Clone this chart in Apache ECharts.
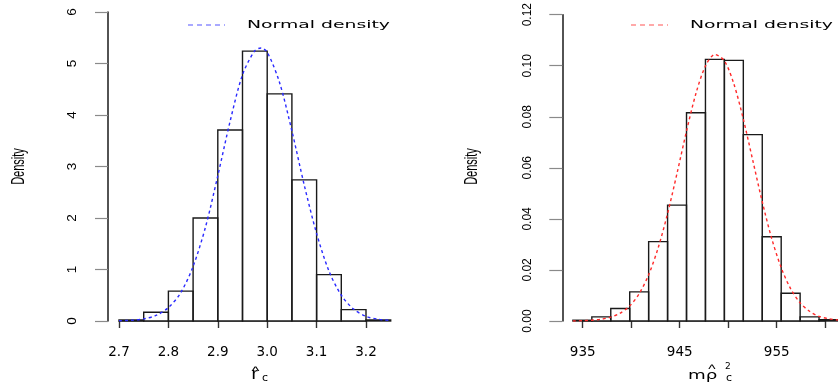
<!DOCTYPE html>
<html>
	<head>
		<meta charset="utf-8">
		<title>Histograms with normal density</title>
		<script src="https://cdn.jsdelivr.net/npm/echarts@6.0.0/dist/echarts.min.js"></script>
		<style>
			html, body {margin:0;padding:0;background:#fff;}
			#chart {width:838px;height:390px;}
		</style>
	</head>
	<body>
		<div id="chart"></div>
		<script>
			// left panel: r hat c
			var leftBinStart = [2.70, 2.75, 2.80, 2.85, 2.90, 2.95, 3.00, 3.05, 3.10, 3.15, 3.20];
			var leftBinWidth = 0.05;
			var leftDensity = [0.02, 0.17, 0.58, 2.00, 3.71, 5.24, 4.41, 2.74, 0.90, 0.22, 0.02];
			var leftCurveX = [2.700, 2.725, 2.750, 2.775, 2.800, 2.825, 2.850, 2.875, 2.900, 2.925, 2.950, 2.975, 2.9875, 3.000, 3.025, 3.050, 3.075, 3.100, 3.125, 3.150, 3.175, 3.200, 3.225, 3.250];
			var leftCurveY = [0.004, 0.014, 0.041, 0.108, 0.26, 0.55, 1.06, 1.82, 2.82, 3.88, 4.78, 5.25, 5.30, 5.22, 4.63, 3.69, 2.64, 1.70, 0.97, 0.50, 0.23, 0.09, 0.033, 0.011];
			var leftXTickLabels = ['2.7', '2.8', '2.9', '3.0', '3.1', '3.2'];
			var leftYTickLabels = ['0', '1', '2', '3', '4', '5', '6'];

			// right panel: m rho hat^2 c
			var rightBinStart = [934, 936, 938, 940, 942, 944, 946, 948, 950, 952, 954, 956, 958, 960];
			var rightBinWidth = 2;
			var rightDensity = [0.0003, 0.0016, 0.0049, 0.0114, 0.0311, 0.0454, 0.0816, 0.1025, 0.1021, 0.0730, 0.0330, 0.0109, 0.0016, 0.0005];
			var rightCurveX = [934, 935, 936, 937, 938, 939, 940, 941, 942, 943, 944, 945, 946, 947, 948, 949, 950, 951, 952, 953, 954, 955, 956, 957, 958, 959, 960, 961, 962];
			var rightCurveY = [0.0000, 0.0001, 0.0003, 0.0007, 0.0015, 0.0031, 0.0059, 0.0107, 0.0181, 0.0286, 0.0421, 0.0579, 0.0744, 0.0892, 0.0999, 0.1044, 0.1019, 0.0929, 0.0791, 0.0629, 0.0467, 0.0323, 0.0209, 0.0126, 0.0071, 0.0038, 0.0018, 0.0009, 0.0004];
			var rightXTickLabels = ['935', '', '945', '', '955', ''];
			var rightYTickLabels = ['0.00', '0.02', '0.04', '0.06', '0.08', '0.10', '0.12'];

			var legendText = 'Normal density';

			function histItem(params, api) {
				var p0 = api.coord([api.value(0), api.value(2)]);
				var p1 = api.coord([api.value(1), 0]);
				return {
					type: 'rect',
					shape: {x: p0[0], y: p0[1], width: p1[0] - p0[0], height: p1[1] - p0[1]},
					style: {fill: 'rgba(0,0,0,0)', stroke: '#1a1a1a', lineWidth: 1.4}
				};
			}

			function bins(starts, width, dens) {
				return starts.map(function (s, i) { return [s, s + width, dens[i]]; });
			}

			function pairs(xs, ys) {
				return xs.map(function (x, i) { return [x, ys[i]]; });
			}

			function pick(labels, min, step) {
				return function (v) {
					var i = Math.round((v - min) / step);
					return labels[i] !== undefined ? labels[i] : '';
				};
			}

			function txt(x, y, s, size, family, extra) {
				var el = {type: 'text', x: x, y: y, style: {text: s, fontFamily: family, fontSize: size, fill: '#000', verticalAlign: 'middle'}};
				for (var k in extra) {
					if (k === 'align') el.style.align = extra[k];
					else el[k] = extra[k];
				}
				return el;
			}

			var tickX = {
				axisLine: {show: true, lineStyle: {color: '#8a8a8a', width: 1.2}},
				axisTick: {show: true, length: 7, lineStyle: {color: '#333', width: 1.4}},
				splitLine: {show: false}
			};
			var tickY = {
				axisLine: {show: true, lineStyle: {color: '#1a1a1a', width: 1.5}},
				axisTick: {show: true, length: 13, lineStyle: {color: '#8a8a8a', width: 1.2}},
				splitLine: {show: false}
			};

			var chart = echarts.init(document.getElementById('chart'));
			var option = {
				backgroundColor: '#fff',
				animation: false,
				grid: [
					{left: 119, top: 12, width: 271.7, height: 309},
					{left: 119, top: 12, width: 247, height: 309},
					{left: 572.9, top: 12, width: 271.6, height: 309},
					{left: 582.7, top: 12, width: 242.5, height: 309}
				],
				xAxis: [
					{gridIndex: 0, type: 'value', min: 2.7, max: 3.25, show: false},
					Object.assign({gridIndex: 1, type: 'value', min: 2.7, max: 3.2, interval: 0.1, offset: 12,
						axisLabel: {margin: 12, color: '#000', fontFamily: 'DejaVu Sans', fontSize: 13.5,
							formatter: pick(leftXTickLabels, 2.7, 0.1)}}, tickX),
					{gridIndex: 2, type: 'value', min: 934, max: 962, show: false},
					Object.assign({gridIndex: 3, type: 'value', min: 935, max: 960, interval: 5, offset: 12,
						axisLabel: {margin: 12, color: '#000', fontFamily: 'DejaVu Sans', fontSize: 13.5,
							formatter: pick(rightXTickLabels, 935, 5)}}, tickX)
				],
				yAxis: [
					Object.assign({gridIndex: 0, type: 'value', min: 0, max: 6, interval: 1, offset: 11,
						axisLabel: {rotate: 90, margin: 29, color: '#000', fontFamily: 'Liberation Sans', fontSize: 13.5,
							formatter: pick(leftYTickLabels, 0, 1)}}, tickY),
					{gridIndex: 1, type: 'value', min: 0, max: 6, show: false},
					Object.assign({gridIndex: 2, type: 'value', min: 0, max: 0.12, interval: 0.02, offset: 10.6,
						axisLabel: {rotate: 90, margin: 29, color: '#000', fontFamily: 'Liberation Sans', fontSize: 12,
							formatter: pick(rightYTickLabels, 0, 0.02)}}, tickY),
					{gridIndex: 3, type: 'value', min: 0, max: 0.12, show: false}
				],
				series: [
					{type: 'custom', xAxisIndex: 0, yAxisIndex: 0, renderItem: histItem, encode: {x: [0, 1], y: 2},
						data: bins(leftBinStart, leftBinWidth, leftDensity), silent: true, z: 2},
					{type: 'line', name: legendText, xAxisIndex: 0, yAxisIndex: 0, data: pairs(leftCurveX, leftCurveY),
						symbol: 'none', smooth: 0.3, silent: true, z: 3,
						lineStyle: {color: '#2a2aff', width: 1.4, type: [3, 3]}},
					{type: 'custom', xAxisIndex: 2, yAxisIndex: 2, renderItem: histItem, encode: {x: [0, 1], y: 2},
						data: bins(rightBinStart, rightBinWidth, rightDensity), silent: true, z: 2},
					{type: 'line', name: legendText, xAxisIndex: 2, yAxisIndex: 2, data: pairs(rightCurveX, rightCurveY),
						symbol: 'none', smooth: 0.3, silent: true, z: 3,
						lineStyle: {color: '#ff2a2a', width: 1.4, type: [3, 3]}}
				],
				graphic: [
					// legends
					{type: 'line', shape: {x1: 188, y1: 25, x2: 225, y2: 25}, style: {stroke: '#5555ff', lineWidth: 1.2, lineDash: [5, 4]}},
					txt(247, 25, legendText, 11, 'DejaVu Sans', {scaleX: 1.71}),
					{type: 'line', shape: {x1: 631, y1: 25, x2: 668, y2: 25}, style: {stroke: '#ff5555', lineWidth: 1.2, lineDash: [5, 4]}},
					txt(690, 25, legendText, 11, 'DejaVu Sans', {scaleX: 1.71}),
					// y titles
					txt(19, 166.5, 'Density', 11, 'Liberation Sans', {rotation: Math.PI / 2, scaleY: 1.6, align: 'center'}),
					txt(472, 166.5, 'Density', 11, 'Liberation Sans', {rotation: Math.PI / 2, scaleY: 1.6, align: 'center'}),
					// x title left: r hat, subscript c
					txt(251.5, 374.5, 'r', 16, 'Liberation Sans', {scaleX: 1.2}),
					txt(255.5, 371, '^', 13, 'Liberation Sans', {scaleX: 1.3, align: 'center'}),
					txt(262, 378, 'c', 11, 'DejaVu Sans', {}),
					// x title right: m rho hat, superscript 2, subscript c
					txt(688, 376, 'm\u03c1', 13, 'DejaVu Sans', {scaleX: 1.4}),
					txt(712, 370, '^', 12, 'Liberation Sans', {scaleX: 1.3, align: 'center'}),
					txt(725, 367, '2', 9, 'DejaVu Sans', {}),
					txt(726, 378, 'c', 11, 'DejaVu Sans', {})
				]
			};
			chart.setOption(option);
		</script>
	</body>
</html>
